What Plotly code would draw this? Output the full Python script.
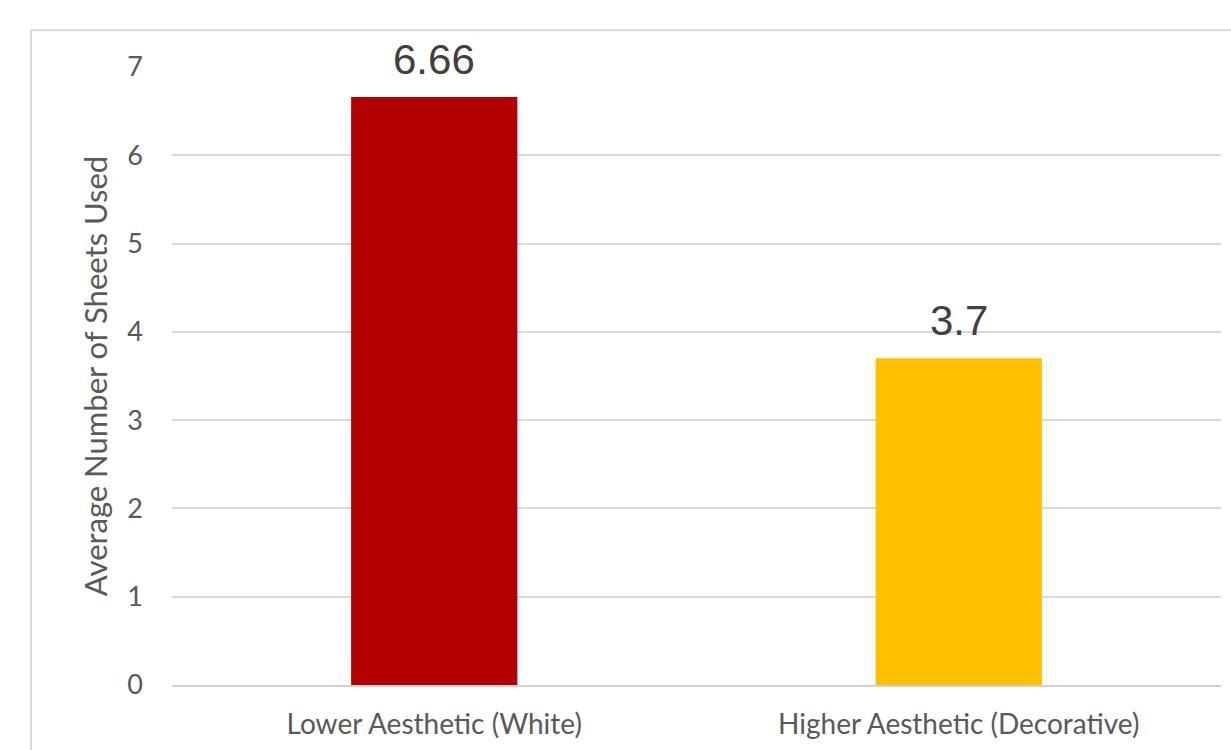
import plotly.graph_objects as go

categories = ["Lower Aesthetic (White)", "Higher Aesthetic (Decorative)"]
values = [6.66, 3.7]
labels = ["6.66", "3.7"]
colors = ["#B30000", "#FFC000"]
y_ticks = [0, 1, 2, 3, 4, 5, 6, 7]

fig = go.Figure()
fig.add_trace(go.Bar(x=categories, y=values, marker=dict(color=colors, line=dict(width=0)),
                     width=0.317, hoverinfo="skip"))

for c, v, t in zip(categories, values, labels):
    fig.add_annotation(x=c, y=v, text=t, showarrow=False, yanchor="bottom", yshift=12,
                       font=dict(family="Liberation Sans, Arial, sans-serif", size=42, color="#404040"))

fig.add_shape(type="rect", xref="paper", yref="paper", x0=-0.1344, x1=1.05, y0=-0.3, y1=1.0596,
              line=dict(color="#d9d9d9", width=2), fillcolor="rgba(0,0,0,0)", layer="below")

fig.update_layout(
    width=1231, height=750,
    margin=dict(l=172, r=10, t=67, b=62),
    paper_bgcolor="white", plot_bgcolor="white",
    showlegend=False,
    font=dict(family="Lato, Open Sans, sans-serif", color="#595959"),
    bargap=0.683,
    xaxis=dict(showgrid=False, showline=True, linecolor="#d0d0d0", linewidth=2, ticks="",
               tickfont=dict(size=28, color="#595959"), ticklabelstandoff=13),
    yaxis=dict(range=[0, 7], tickvals=y_ticks, showgrid=True, gridcolor="#d9d9d9", gridwidth=2,
               zeroline=False, showline=False, ticks="",
               tickfont=dict(size=27, color="#595959"), ticklabelstandoff=28,
               title=dict(text="Average Number of Sheets Used", font=dict(size=31, color="#595959"), standoff=10)),
)

fig.write_html("out.html")
